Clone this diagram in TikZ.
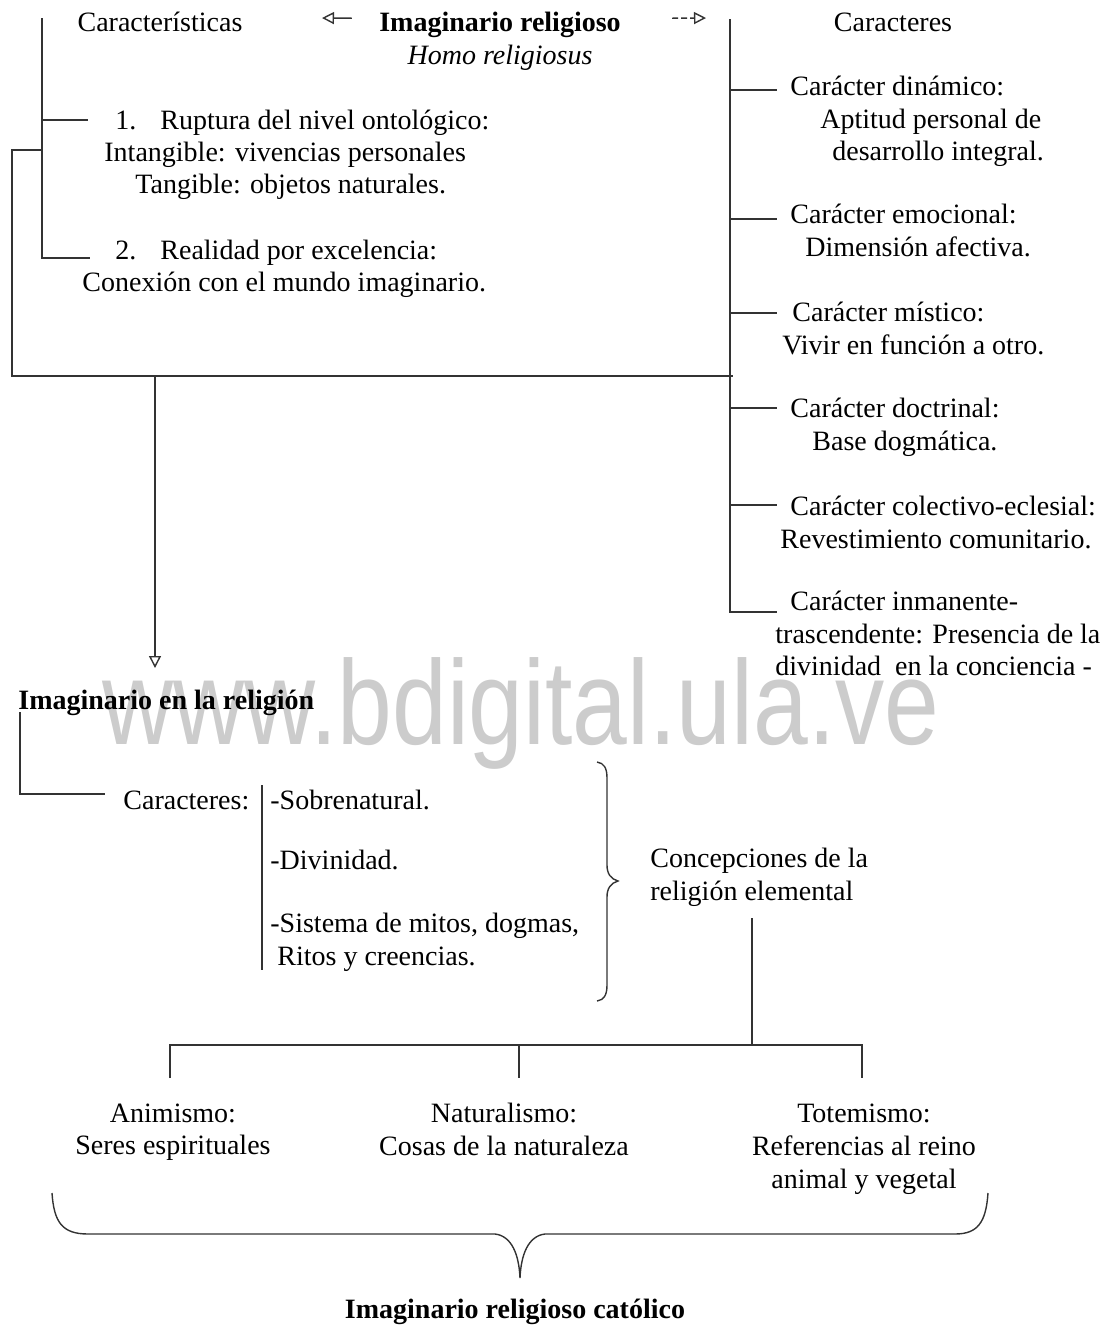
\documentclass[tikz,border=0pt]{standalone}
\usepackage{fontspec}
\setmainfont{Liberation Serif}
\setsansfont{Liberation Sans}
\usetikzlibrary{arrows.meta,positioning}

\begin{document}
\begin{tikzpicture}[x=0.5pt,y=-0.5pt,
	txt/.style={font=\fontsize{14}{16.4}\selectfont,inner sep=0pt,yshift=-1.6pt,
		execute at begin node=\strut,execute at end node=\strut},
	ttl/.style={txt,font=\fontsize{14}{16.4}\selectfont\bfseries},
	line/.style={draw=black!80,line width=0.7pt},
	opentip/.style={line,-{Triangle[open,length=6pt,width=6pt]}}]
			%%%%% START %%%%%
			
			\useasboundingbox (0,0) rectangle (1103,1329);
			
			\node[font=\sffamily\fontsize{60}{60}\selectfont, text=black!20, anchor=base] (wm) at (521,744) {\scalebox{0.82}[1]{www.bdigital.ula.ve}};
			
			\node[txt] (carl) at (160,22) {Características};
			\node[ttl] (imag) at (500,22) {Imaginario religioso};
			\node[txt,font=\fontsize{14}{16.4}\selectfont\itshape] (homo) at (500,55) {Homo religiosus};
			\node[txt] (carr) at (893,22) {Caracteres};
			
			\coordinate (ltip) at (322,18);
			\coordinate (rtip) at (706,18);
			\draw[opentip] (imag.west) ++(-27,-7) -- (ltip);
			\draw[opentip,dash pattern=on 3pt off 1.5pt] (imag.east) ++(51,-7) -- (rtip);
			
			\draw[line] (42,18) -- (42,258) -- (90,258);
			\draw[line] (42,120) -- (88,120);
			\draw[line] (42,150) -- (12,150) -- (12,376) -- (733,376);
			
			\node[txt,anchor=west] (rup) at (115,120) {1.\hspace{12pt}Ruptura del nivel ontológico:};
			\node[txt,anchor=west] (intg) at (104,152) {Intangible: vivencias personales};
			\node[txt,anchor=west] (tang) at (135,184) {Tangible: objetos naturales.};
			\node[txt,anchor=west] (real) at (115,250) {2.\hspace{12pt}Realidad por excelencia:};
			\node[txt,anchor=west] (conx) at (82,282) {Conexión con el mundo imaginario.};
			
			\draw[line] (730,19) -- (730,612) -- (777,612);
			\foreach \y in {90,219,313,408,505}
				\draw[line] (730,\y) -- ++(47,0);
			
			\node[txt,anchor=west,align=left] (cdin) at (790,120) {Carácter dinámico:\\\hspace*{15pt}Aptitud personal de\\\hspace*{21pt}desarrollo integral.};
			\node[txt,anchor=west,align=left] (cemo) at (790,232) {Carácter emocional:\\\hspace*{7.5pt}Dimensión afectiva.};
			\node[txt,anchor=west,align=left] (cmis) at (782,330) {\hspace*{5pt}Carácter místico:\\Vivir en función a otro.};
			\node[txt,anchor=west,align=left] (cdoc) at (790,426) {Carácter doctrinal:\\\hspace*{11pt}Base dogmática.};
			\node[txt,anchor=west,align=left] (ccol) at (780,524) {\hspace*{5pt}Carácter colectivo-eclesial:\\Revestimiento comunitario.};
			\node[txt,anchor=west,align=left] (cinm) at (775,635) {\hspace*{7.5pt}Carácter inmanente-\\trascendente: Presencia de la\\divinidad\ \ en la conciencia -};
			
			\coordinate (dtip) at (155,668);
			\draw[opentip] (155,376) -- (dtip);
			
			\node[ttl,anchor=west] (imrel) at (18,700) {Imaginario en la religión};
			\draw[line] (20,712) -- (20,794) -- (105,794);
			
			\node[txt,anchor=west] (carc) at (123,800) {Caracteres:};
			\draw[line] (262,785) -- (262,970);
			\node[txt,anchor=west] (sobr) at (270,800) {-Sobrenatural.};
			\node[txt,anchor=west] (divi) at (270,860) {-Divinidad.};
			\node[txt,anchor=west,align=left] (sist) at (270,941) {-Sistema de mitos, dogmas,\\\hspace*{3.5pt}Ritos y creencias.};
			
			\draw[line] (597,762) .. controls (604,763) and (607,768) .. (607,778) -- (607,865)
				.. controls (607,874) and (611,879) .. (618,881)
				.. controls (611,883) and (607,888) .. (607,897) -- (607,985)
				.. controls (607,995) and (604,1000) .. (597,1001);
			
			\node[txt,anchor=west,align=left] (conc) at (650,876) {Concepciones de la\\religión elemental};
			
			\coordinate (hub) at (752,1045);
			\draw[line] (752,918) -- (hub);
			\draw[line] (170,1078) -- (170,1045) -- (862,1045) -- (862,1078);
			\draw[line] (519,1045) -- (519,1078);
			
			\node[txt,align=center] (anim) at (173,1131) {Animismo:\\Seres espirituales};
			\node[txt,align=center] (natu) at (504,1131) {Naturalismo:\\Cosas de la naturaleza};
			\node[txt,align=center] (tote) at (864,1148) {Totemismo:\\Referencias al reino\\animal y vegetal};
			
			\draw[line] (52,1193) .. controls (54,1222) and (62,1234) .. (88,1234) -- (495,1234)
				.. controls (512,1236) and (519,1255) .. (520,1278)
				.. controls (521,1255) and (528,1236) .. (545,1234) -- (955,1234)
				.. controls (978,1234) and (986,1222) .. (988,1193);
			
			\node[ttl] (catol) at (515,1309) {Imaginario religioso católico};
			
			%%%%% END %%%%%
\end{tikzpicture}
\end{document}
